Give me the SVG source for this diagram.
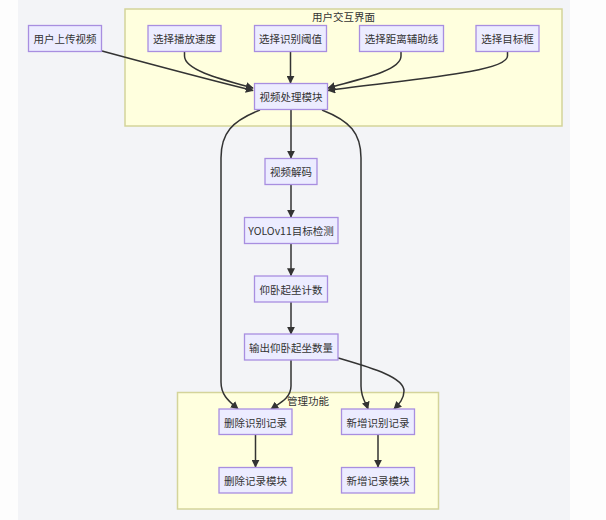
<svg xmlns="http://www.w3.org/2000/svg" width="606" height="520" viewBox="0 0 606 520">
<style>
.node rect{fill:#ECECFF;stroke:#a88ee0;stroke-width:1.3}
.cluster rect{fill:#ffffde;stroke:#d4d49a;stroke-width:1.5}
text{font-family:"Noto Sans CJK SC","Noto Sans",sans-serif;font-size:10.5px;fill:#333;text-anchor:middle;dominant-baseline:central}
.edges path{fill:none;stroke:#333;stroke-width:1.5}
</style>
<defs>
<marker id="arr" viewBox="0 0 10 10" refX="9" refY="5" markerWidth="8" markerHeight="8" markerUnits="userSpaceOnUse" orient="auto">
<path d="M0,0 L10,5 L0,10 z" fill="#333"/>
</marker>
</defs>
<rect x="0" y="0" width="606" height="520" fill="#fdfdfd"/>
<rect x="18" y="0" width="552" height="520" fill="#f3f4f7"/>
<g id="cluster-ui" class="cluster"><rect x="125" y="9" width="437" height="117"/><text x="343.5" y="16">用户交互界面</text></g>
<g id="cluster-admin" class="cluster"><rect x="177.5" y="392.5" width="261" height="116.5"/><text x="308" y="400">管理功能</text></g>
<g class="edges">
<path d="M102,51 C150,64 210,80 253,90.5" marker-end="url(#arr)"/>
<path d="M184.5,52 L184.5,56 C184.5,70 220,79 253,88" marker-end="url(#arr)"/>
<path d="M290.5,52 L290.5,83" marker-end="url(#arr)"/>
<path d="M401,52 L401,56 C401,71 360,79 328,88" marker-end="url(#arr)"/>
<path d="M507.5,52 L507.5,56 C507.5,73 400,80 328,90.5" marker-end="url(#arr)"/>
<path d="M291,110 L291,158" marker-end="url(#arr)"/>
<path d="M260,110 C232,121 221,133 221,158 L221,382 C221,396 230,402 238,409" marker-end="url(#arr)"/>
<path d="M322,110 C350,121 361,133 361,158 L361,386 C361,398 366,403 368,409" marker-end="url(#arr)"/>
<path d="M291,184.5 L291,217" marker-end="url(#arr)"/>
<path d="M291,243.5 L291,275.5" marker-end="url(#arr)"/>
<path d="M291,302 L291,334" marker-end="url(#arr)"/>
<path d="M291,360 L291,386 C291,398 280,403 271,409" marker-end="url(#arr)"/>
<path d="M338,358 C372,368 404,377 404,391 C404,399 399,404 394,409" marker-end="url(#arr)"/>
<path d="M255.5,434.5 L255.5,467" marker-end="url(#arr)"/>
<path d="M378,434.5 L378,467" marker-end="url(#arr)"/>
</g>
<g id="n-upload" class="node"><rect x="28.5" y="25.5" width="73" height="26"/><text x="65" y="38.5">用户上传视频</text></g>
<g id="n-speed" class="node"><rect x="148" y="25.5" width="73" height="26"/><text x="184.5" y="38.5">选择播放速度</text></g>
<g id="n-thresh" class="node"><rect x="254.5" y="25.5" width="72" height="26"/><text x="290.5" y="38.5">选择识别阈值</text></g>
<g id="n-line" class="node"><rect x="359.5" y="25.5" width="84" height="26"/><text x="401.5" y="38.5">选择距离辅助线</text></g>
<g id="n-box" class="node"><rect x="476" y="25.5" width="63" height="26"/><text x="507.5" y="38.5">选择目标框</text></g>
<g id="n-proc" class="node"><rect x="254.5" y="83.5" width="73" height="26"/><text x="291" y="96.5">视频处理模块</text></g>
<g id="n-decode" class="node"><rect x="265" y="158.5" width="52" height="26"/><text x="291" y="171.5">视频解码</text></g>
<g id="n-yolo" class="node"><rect x="244.5" y="217.5" width="93.5" height="26"/><text x="291" y="230.5">YOLOv11目标检测</text></g>
<g id="n-count" class="node"><rect x="254.5" y="276" width="73" height="26"/><text x="291" y="289">仰卧起坐计数</text></g>
<g id="n-output" class="node"><rect x="244.5" y="334" width="93.5" height="26"/><text x="291" y="347">输出仰卧起坐数量</text></g>
<g id="n-delrec" class="node"><rect x="219" y="409" width="73" height="25.5"/><text x="255.5" y="422">删除识别记录</text></g>
<g id="n-addrec" class="node"><rect x="341.5" y="409" width="73" height="25.5"/><text x="378" y="422">新增识别记录</text></g>
<g id="n-delmod" class="node"><rect x="219" y="467.5" width="73" height="25.5"/><text x="255.5" y="480">删除记录模块</text></g>
<g id="n-addmod" class="node"><rect x="341.5" y="467.5" width="73" height="25.5"/><text x="378" y="480">新增记录模块</text></g>
</svg>
